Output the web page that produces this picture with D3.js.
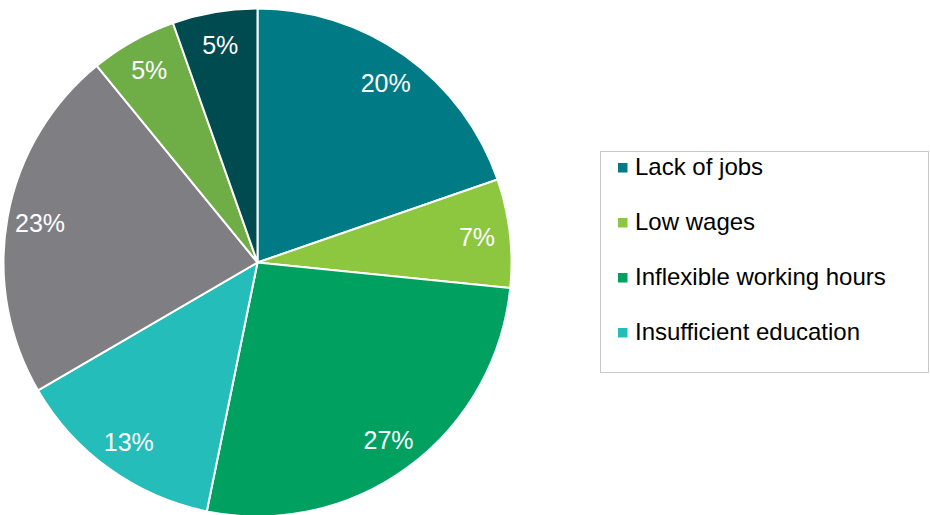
<!DOCTYPE html>
<html><head><meta charset="utf-8">
<script src="https://cdn.jsdelivr.net/npm/d3@7/dist/d3.min.js"></script>
<style>body{margin:0;background:#fff;}svg{display:block;}</style>
</head><body>
<svg id="c" width="930" height="515"></svg>
<script>
const values = [19.7, 6.9, 26.6, 13.4, 22.5, 5.5, 5.4];
const valueLabels = ["20%", "7%", "27%", "13%", "23%", "5%", "5%"];
const colors = ["#007A85", "#8DC63F", "#00A160", "#24BDB9", "#7F7E83", "#6FAD47", "#004B50"];
const legendLabels = ["Lack of jobs", "Low wages", "Inflexible working hours", "Insufficient education"];

const svg = d3.select("#c");
const cx = 257.5, cy = 262.5, R = 254;
const pie = d3.pie().sort(null).value(d => d)(values);
const arc = d3.arc().innerRadius(0).outerRadius(R);
const labelArc = d3.arc().innerRadius(R * 0.87).outerRadius(R * 0.87);
const g = svg.append("g").attr("transform", `translate(${cx},${cy})`);
g.selectAll("path").data(pie).join("path")
  .attr("d", arc).attr("fill", (d, i) => colors[i])
  .attr("stroke", "#fff").attr("stroke-width", 2);
g.selectAll("text").data(pie).join("text")
  .attr("transform", d => `translate(${labelArc.centroid(d)})`)
  .attr("text-anchor", "middle").attr("dy", "0.36em")
  .attr("font-family", "Liberation Sans, Arial, sans-serif").attr("font-size", 25)
  .attr("fill", "#fff").text((d, i) => valueLabels[i]);

const lg = svg.append("g");
lg.append("rect").attr("x", 600.5).attr("y", 151.5).attr("width", 328).attr("height", 221)
  .attr("fill", "#fff").attr("stroke", "#C8C8C8").attr("stroke-width", 1);
legendLabels.forEach((t, i) => {
  const base = 175 + i * 55;
  lg.append("rect").attr("x", 618).attr("y", base - 12).attr("width", 9.5).attr("height", 9.5).attr("fill", colors[i]);
  lg.append("text").attr("x", 635).attr("y", base)
    .attr("font-family", "Liberation Sans, Arial, sans-serif").attr("font-size", 24)
    .attr("fill", "#000").text(t);
});
</script>
</body></html>
